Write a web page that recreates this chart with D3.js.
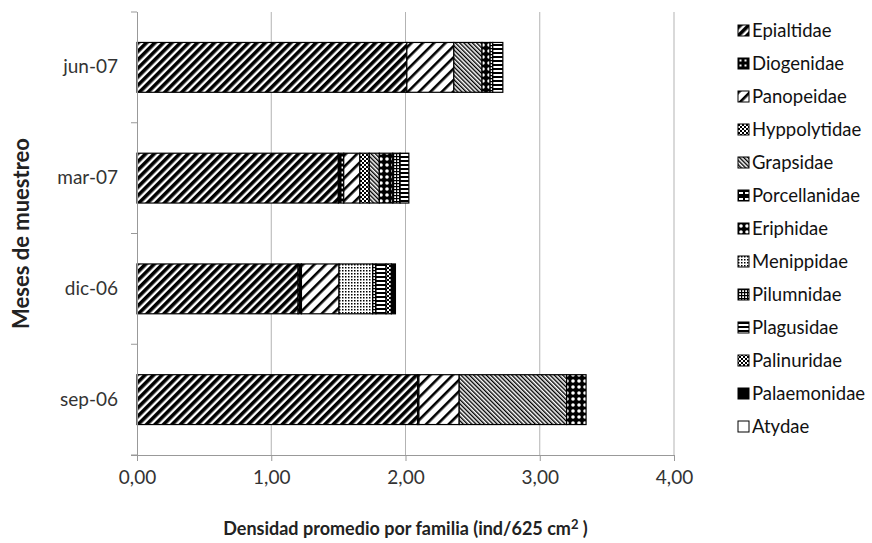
<!DOCTYPE html>
<html>
<head>
<meta charset="utf-8">
<script src="https://cdn.jsdelivr.net/npm/d3@7"></script>
<style>
  body { margin: 0; background: #fff; }
  text { font-family: Lato, "Open Sans", sans-serif; }
</style>
</head>
<body>
<div id="chart"></div>
<script>
// months, bottom to top as drawn
var months = ["sep-06", "dic-06", "mar-07", "jun-07"];

// families, in stacking / legend order
var families = ["Epialtidae", "Diogenidae", "Panopeidae", "Hyppolytidae", "Grapsidae",
    "Porcellanidae", "Eriphidae", "Menippidae", "Pilumnidae", "Plagusidae",
    "Palinuridae", "Palaemonidae", "Atydae"];

// values per family, one entry per month (sep-06, dic-06, mar-07, jun-07)
var epialtidae    = [2.09, 1.20, 1.50, 2.01];
var diogenidae    = [0.01, 0.025, 0.04, 0.00];
var panopeidae    = [0.30, 0.28, 0.12, 0.35];
var hyppolytidae  = [0.00, 0.00, 0.07, 0.00];
var grapsidae     = [0.80, 0.00, 0.075, 0.21];
var porcellanidae = [0.00, 0.00, 0.00, 0.00];
var eriphidae     = [0.145, 0.00, 0.10, 0.06];
var menippidae    = [0.00, 0.25, 0.00, 0.00];
var pilumnidae    = [0.00, 0.025, 0.055, 0.02];
var plagusidae    = [0.00, 0.075, 0.065, 0.075];
var palinuridae   = [0.00, 0.04, 0.00, 0.00];
var palaemonidae  = [0.00, 0.03, 0.00, 0.00];
var atydae        = [0.00, 0.00, 0.00, 0.00];

var xTicks = [0, 1, 2, 3, 4];
var xTickLabels = ["0,00", "1,00", "2,00", "3,00", "4,00"];

var seriesValues = [epialtidae, diogenidae, panopeidae, hyppolytidae, grapsidae,
    porcellanidae, eriphidae, menippidae, pilumnidae, plagusidae,
    palinuridae, palaemonidae, atydae];

var dataset = months.map(function (m, i) {
    var row = { month: m };
    families.forEach(function (f, j) { row[f] = seriesValues[j][i]; });
    return row;
});

const w = 872;
const h = 543;
const plotLeft = 137, plotRight = 674, plotTop = 12, plotBottom = 455;

var svg = d3.select("#chart").append("svg").attr("width", w).attr("height", h);
var defs = svg.append("defs");

// helper for hatch patterns
function pattern(id, size, bg, draw, transform) {
    var p = defs.append("pattern")
        .attr("id", id)
        .attr("patternUnits", "userSpaceOnUse")
        .attr("width", size[0])
        .attr("height", size[1]);
    if (transform) p.attr("patternTransform", transform);
    p.append("rect").attr("width", size[0]).attr("height", size[1]).attr("fill", bg);
    draw(p);
}

pattern("p0", [6, 6], "#fff", (p) => {
    p.append("rect").attr("width", 3.6).attr("height", 6).attr("fill", "#000");
}, "rotate(45)");
pattern("p1", [5, 5], "#000", (p) => {
    p.append("rect").attr("x", 1.5).attr("y", 1.5).attr("width", 2).attr("height", 2).attr("fill", "#fff");
});
pattern("p2", [8, 8], "#fff", (p) => {
    p.append("rect").attr("width", 2.6).attr("height", 8).attr("fill", "#000");
}, "rotate(45)");
pattern("p3", [4, 4], "#fff", (p) => {
    p.append("rect").attr("width", 2).attr("height", 2).attr("fill", "#000");
    p.append("rect").attr("x", 2).attr("y", 2).attr("width", 2).attr("height", 2).attr("fill", "#000");
});
pattern("p4", [3, 3], "#fff", (p) => {
    p.append("rect").attr("width", 1.4).attr("height", 3).attr("fill", "#000");
}, "rotate(-45)");
pattern("p5", [6, 6], "#000", (p) => {
    p.append("rect").attr("x", 1).attr("y", 2).attr("width", 4).attr("height", 2).attr("fill", "#fff");
});
pattern("p6", [6, 6], "#000", (p) => {
    p.append("circle").attr("cx", 3).attr("cy", 3).attr("r", 1.8).attr("fill", "#fff");
});
pattern("p7", [3, 3], "#fff", (p) => {
    p.append("rect").attr("width", 1.5).attr("height", 1.5).attr("fill", "#000");
});
pattern("p8", [3, 3], "#fff", (p) => {
    p.append("rect").attr("width", 3).attr("height", 1.2).attr("fill", "#000");
    p.append("rect").attr("width", 1.2).attr("height", 3).attr("fill", "#000");
});
pattern("p9", [4, 4], "#fff", (p) => {
    p.append("rect").attr("width", 4).attr("height", 2).attr("fill", "#000");
});
pattern("p10", [4, 4], "#fff", (p) => {
    p.append("path").attr("d", "M0,0L4,4M4,0L0,4").attr("stroke", "#000").attr("stroke-width", 1);
});
pattern("p11", [4, 4], "#000", (p) => {});
pattern("p12", [4, 4], "#fff", (p) => {});

// Scales
var xScale = d3.scaleLinear().domain([0, 4]).range([plotLeft, plotRight]);
var yScale = d3.scaleBand().domain(months).range([plotBottom, plotTop])
    .paddingInner(0.55).paddingOuter(0.275);

// Gridlines
svg.append("g")
    .selectAll("line")
    .data(xTicks.slice(1))
    .join("line")
    .attr("x1", (d) => xScale(d)).attr("x2", (d) => xScale(d))
    .attr("y1", plotTop).attr("y2", plotBottom)
    .attr("stroke", "#b3b3b3").attr("stroke-width", 1);

// Stacked bars
var stack = d3.stack().keys(families);
var layers = stack(dataset);

svg.append("g")
    .selectAll("g")
    .data(layers)
    .join("g")
    .attr("fill", (d, i) => "url(#p" + i + ")")
    .selectAll("rect")
    .data((d) => d.filter((v) => v[1] - v[0] > 0))
    .join("rect")
    .attr("x", (d) => xScale(d[0]))
    .attr("y", (d) => yScale(d.data.month))
    .attr("width", (d) => xScale(d[1]) - xScale(d[0]))
    .attr("height", yScale.bandwidth())
    .attr("stroke", "#000")
    .attr("stroke-width", 1.2);

// X axis
var xAxis = d3.axisBottom(xScale)
    .tickValues(xTicks)
    .tickFormat((d, i) => xTickLabels[i])
    .tickSize(6)
    .tickPadding(10);

var gx = svg.append("g")
    .attr("transform", "translate(0," + plotBottom + ")")
    .call(xAxis);
gx.select(".domain").attr("stroke", "#999").attr("d", "M" + (plotLeft - 6) + ",0.5H" + plotRight);
gx.selectAll(".tick line").attr("stroke", "#999");
gx.selectAll(".tick text").attr("font-size", 19).attr("fill", "#333");

// Y axis
var yAxis = d3.axisLeft(yScale).tickSize(0).tickPadding(19);
var gy = svg.append("g")
    .attr("transform", "translate(" + plotLeft + ",0)")
    .call(yAxis);
gy.select(".domain").attr("stroke", "#999").attr("d", "M0.5," + plotTop + "V" + (plotBottom + 6));
gy.selectAll(".tick text").attr("font-size", 19).attr("fill", "#333");

// category boundary ticks
var bounds = d3.range(months.length + 1).map((i) => plotBottom - i * (plotBottom - plotTop) / months.length);
gy.append("g").selectAll("line")
    .data(bounds)
    .join("line")
    .attr("x1", -6).attr("x2", 0)
    .attr("y1", (d) => d).attr("y2", (d) => d)
    .attr("stroke", "#999");

// Axis titles
var xt = svg.append("text")
    .attr("x", (plotLeft + plotRight) / 2)
    .attr("y", 535)
    .attr("text-anchor", "middle")
    .attr("font-size", 18)
    .attr("font-weight", "bold")
    .attr("fill", "#222");
xt.append("tspan").text("Densidad promedio por familia (ind/625 cm");
xt.append("tspan").attr("font-size", 13).attr("dy", -6).text("2");
xt.append("tspan").attr("dy", 6).text(" )");

svg.append("text")
    .attr("transform", "translate(29," + (plotTop + plotBottom) / 2 + ") rotate(-90)")
    .attr("text-anchor", "middle")
    .attr("font-size", 22)
    .attr("font-weight", "bold")
    .attr("fill", "#222")
    .text("Meses de muestreo");

// Legend
var legend = svg.append("g")
    .selectAll("g")
    .data(families)
    .join("g")
    .attr("transform", (d, i) => "translate(738," + (25 + i * 33) + ")");

legend.append("rect")
    .attr("width", 11).attr("height", 11)
    .attr("fill", (d, i) => "url(#p" + i + ")")
    .attr("stroke", "#000").attr("stroke-width", 1);

legend.append("text")
    .attr("x", 14).attr("y", 12)
    .attr("font-size", 18.5)
    .attr("fill", "#111")
    .text((d) => d);
</script>
</body>
</html>
